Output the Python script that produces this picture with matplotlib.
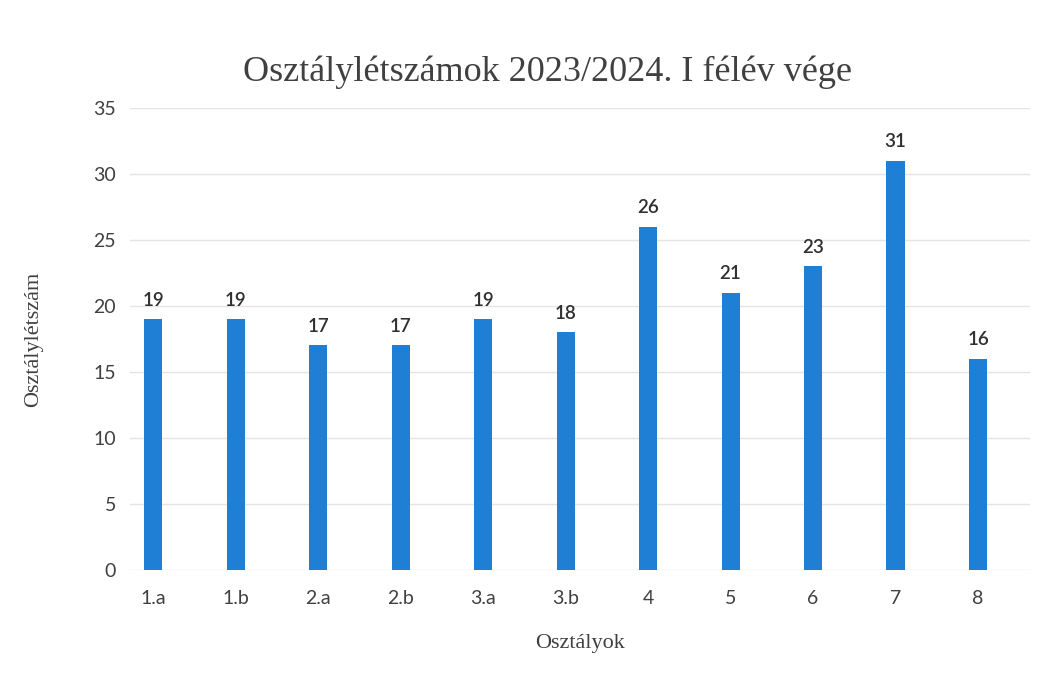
import matplotlib.pyplot as plt

# Data
classes = ["1.a", "1.b", "2.a", "2.b", "3.a", "3.b", "4", "5", "6", "7", "8"]
students = [19, 19, 17, 17, 19, 18, 26, 21, 23, 31, 16]
y_ticks = [0, 5, 10, 15, 20, 25, 30, 35]

bar_color = '#1f7fd4'
text_color = '#404040'

fig = plt.figure(figsize=(10.42, 6.86), dpi=100)
ax = fig.add_axes([0.1248, 0.169, 0.8637, 0.674])

x = range(len(classes))
bars = ax.bar(x, students, width=0.22, color=bar_color, zorder=3)

# value labels above bars
for xi, v in zip(x, students):
    ax.text(xi, v + 0.8, str(v), ha='center', va='bottom',
            fontsize=13.5, fontweight='semibold', color='#303030', family='Lato')

ax.set_xlim(-0.28, 10.63)
ax.set_ylim(0, 35)
ax.set_yticks(y_ticks)
ax.set_xticks(list(x))
ax.set_xticklabels(classes)
ax.tick_params(axis='both', length=0, labelsize=14, labelcolor=text_color, pad=14)
for lbl in ax.get_xticklabels() + ax.get_yticklabels():
    lbl.set_family('Lato')
ax.tick_params(axis='y', pad=10)

ax.grid(axis='y', color='#e4e4e4', lw=1, zorder=0)
for s in ax.spines.values():
    s.set_visible(False)

# title centred on the figure, not on the plot area
fig.text(0.525, 0.895, "Osztálylétszámok 2023/2024. I félév vége", fontsize=26,
         family='Liberation Serif', color=text_color, ha='center', va='center')
ax.set_xlabel("Osztályok", fontsize=16, family='Liberation Serif',
              color=text_color, labelpad=20)
ax.set_ylabel("Osztálylétszám", fontsize=16, family='Liberation Serif',
              color=text_color, labelpad=36)

plt.savefig("out.png", dpi=100)
